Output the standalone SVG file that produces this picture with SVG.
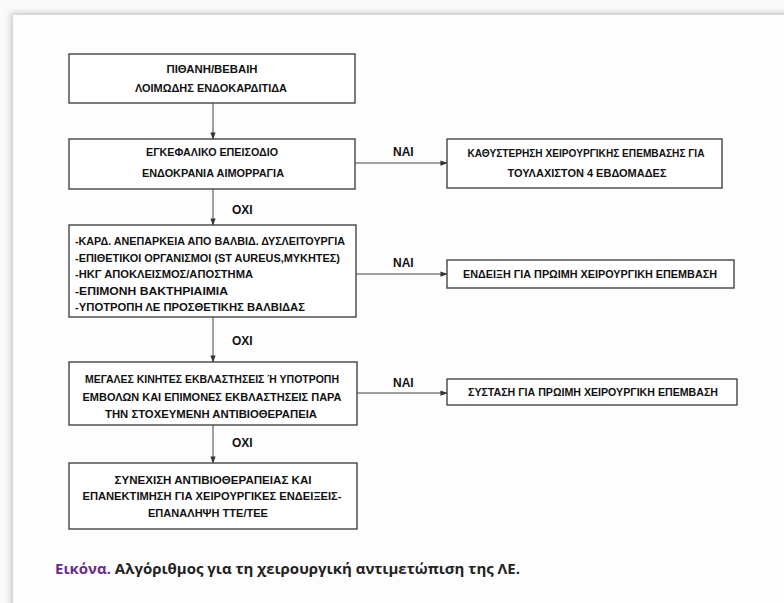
<svg xmlns="http://www.w3.org/2000/svg" width="784" height="603" viewBox="0 0 784 603">
<defs>
<filter id="sh" x="-5%" y="-5%" width="110%" height="110%"><feGaussianBlur stdDeviation="3"/></filter>
<marker id="ah" viewBox="0 0 8 8" refX="7.5" refY="4" markerWidth="7" markerHeight="7" markerUnits="userSpaceOnUse" orient="auto"><path d="M0,1 L8,4 L0,7 z" fill="#333"/></marker>
<style>
.box{fill:#fff;stroke:#444;stroke-width:1.4}
.t{font-family:"Liberation Sans",Arial,sans-serif;font-weight:bold;font-size:10.5px;fill:#111}
.c{text-anchor:middle}
.lab{font-family:"Liberation Sans",Arial,sans-serif;font-weight:bold;font-size:12px;fill:#111}
.ln{stroke:#444;stroke-width:1;fill:none;marker-end:url(#ah)}
</style>
</defs>
<rect x="0" y="0" width="784" height="603" fill="#fafafa"/>
<rect x="11" y="13" width="790" height="600" fill="#777" opacity="0.4" filter="url(#sh)"/>
<rect x="13" y="15" width="780" height="600" fill="#fdfdfd"/>

<g id="connectors">
<path class="ln" d="M213,103 V139"/>
<path class="ln" d="M213,189 V225"/>
<path class="ln" d="M213,317 V362"/>
<path class="ln" d="M213,425 V463"/>
<path class="ln" d="M355,163 H447"/>
<path class="ln" d="M356,274 H447"/>
<path class="ln" d="M357,393 H447"/>
<text class="lab" x="232" y="214">ΟΧΙ</text>
<text class="lab" x="232" y="345">ΟΧΙ</text>
<text class="lab" x="232" y="447">ΟΧΙ</text>
<text class="lab" x="393" y="156">ΝΑΙ</text>
<text class="lab" x="393" y="267">ΝΑΙ</text>
<text class="lab" x="393" y="387">ΝΑΙ</text>
</g>

<g id="n1">
<rect class="box" x="69" y="54" width="286" height="49"/>
<text class="t c" x="212" y="73" textLength="91" lengthAdjust="spacingAndGlyphs">ΠΙΘΑΝΗ/ΒΕΒΑΙΗ</text>
<text class="t c" x="211" y="92" textLength="152" lengthAdjust="spacingAndGlyphs">ΛΟΙΜΩΔΗΣ ΕΝΔΟΚΑΡΔΙΤΙΔΑ</text>
</g>
<g id="n2">
<rect class="box" x="69" y="139" width="286" height="50"/>
<text class="t c" x="212" y="156" textLength="132" lengthAdjust="spacingAndGlyphs">ΕΓΚΕΦΑΛΙΚΟ ΕΠΕΙΣΟΔΙΟ</text>
<text class="t c" x="213" y="177" textLength="142" lengthAdjust="spacingAndGlyphs">ΕΝΔΟΚΡΑΝΙΑ ΑΙΜΟΡΡΑΓΙΑ</text>
</g>
<g id="n2r">
<rect class="box" x="447" y="139" width="275" height="49"/>
<text class="t c" x="586" y="157" textLength="237" lengthAdjust="spacingAndGlyphs">ΚΑΘΥΣΤΕΡΗΣΗ ΧΕΙΡΟΥΡΓΙΚΗΣ ΕΠΕΜΒΑΣΗΣ ΓΙΑ</text>
<text class="t c" x="587" y="177" textLength="159" lengthAdjust="spacingAndGlyphs">ΤΟΥΛΑΧΙΣΤΟΝ 4 ΕΒΔΟΜΑΔΕΣ</text>
</g>
<g id="n3">
<rect class="box" x="69" y="225" width="287" height="92"/>
<text class="t" x="75" y="245" textLength="270" lengthAdjust="spacingAndGlyphs">-ΚΑΡΔ. ΑΝΕΠΑΡΚΕΙΑ ΑΠΟ ΒΑΛΒΙΔ. ΔΥΣΛΕΙΤΟΥΡΓΙΑ</text>
<text class="t" x="75" y="262" textLength="265" lengthAdjust="spacingAndGlyphs">-ΕΠΙΘΕΤΙΚΟΙ ΟΡΓΑΝΙΣΜΟΙ (ST AUREUS,ΜΥΚΗΤΕΣ)</text>
<text class="t" x="75" y="278" textLength="178" lengthAdjust="spacingAndGlyphs">-ΗΚΓ ΑΠΟΚΛΕΙΣΜΟΣ/ΑΠΟΣΤΗΜΑ</text>
<text class="t" x="75" y="295" textLength="153" lengthAdjust="spacingAndGlyphs">-ΕΠΙΜΟΝΗ ΒΑΚΤΗΡΙΑΙΜΙΑ</text>
<text class="t" x="75" y="311" textLength="230" lengthAdjust="spacingAndGlyphs">-ΥΠΟΤΡΟΠΗ ΛΕ ΠΡΟΣΘΕΤΙΚΗΣ ΒΑΛΒΙΔΑΣ</text>
</g>
<g id="n3r">
<rect class="box" x="447" y="260" width="287" height="28"/>
<text class="t c" x="590" y="278" textLength="254" lengthAdjust="spacingAndGlyphs">ΕΝΔΕΙΞΗ ΓΙΑ ΠΡΩΙΜΗ ΧΕΙΡΟΥΡΓΙΚΗ ΕΠΕΜΒΑΣΗ</text>
</g>
<g id="n4">
<rect class="box" x="69" y="362" width="288" height="63"/>
<text class="t c" x="212" y="383" textLength="254" lengthAdjust="spacingAndGlyphs">ΜΕΓΑΛΕΣ ΚΙΝΗΤΕΣ ΕΚΒΛΑΣΤΗΣΕΙΣ Ή ΥΠΟΤΡΟΠΗ</text>
<text class="t c" x="212" y="401" textLength="259" lengthAdjust="spacingAndGlyphs">ΕΜΒΟΛΩΝ ΚΑΙ ΕΠΙΜΟΝΕΣ ΕΚΒΛΑΣΤΗΣΕΙΣ ΠΑΡΑ</text>
<text class="t c" x="211" y="418" textLength="212" lengthAdjust="spacingAndGlyphs">ΤΗΝ ΣΤΟΧΕΥΜΕΝΗ ΑΝΤΙΒΙΟΘΕΡΑΠΕΙΑ</text>
</g>
<g id="n4r">
<rect class="box" x="447" y="379" width="290" height="26"/>
<text class="t c" x="593" y="396" textLength="250" lengthAdjust="spacingAndGlyphs">ΣΥΣΤΑΣΗ ΓΙΑ ΠΡΩΙΜΗ ΧΕΙΡΟΥΡΓΙΚΗ ΕΠΕΜΒΑΣΗ</text>
</g>
<g id="n5">
<rect class="box" x="69" y="463" width="288" height="66"/>
<text class="t c" x="213" y="484" textLength="197" lengthAdjust="spacingAndGlyphs">ΣΥΝΕΧΙΣΗ ΑΝΤΙΒΙΟΘΕΡΑΠΕΙΑΣ ΚΑΙ</text>
<text class="t c" x="212" y="500" textLength="259" lengthAdjust="spacingAndGlyphs">ΕΠΑΝΕΚΤΙΜΗΣΗ ΓΙΑ ΧΕΙΡΟΥΡΓΙΚΕΣ ΕΝΔΕΙΞΕΙΣ-</text>
<text class="t c" x="208" y="517" textLength="120" lengthAdjust="spacingAndGlyphs">ΕΠΑΝΑΛΗΨΗ ΤΤΕ/ΤΕΕ</text>
</g>

<text x="55" y="574" font-family="'Open Sans','Noto Sans',sans-serif" font-weight="bold" font-size="13.5" fill="#222" textLength="465" lengthAdjust="spacingAndGlyphs"><tspan fill="#6a2c8c">Εικόνα.</tspan> Αλγόριθμος για τη χειρουργική αντιμετώπιση της ΛΕ.</text>
</svg>
